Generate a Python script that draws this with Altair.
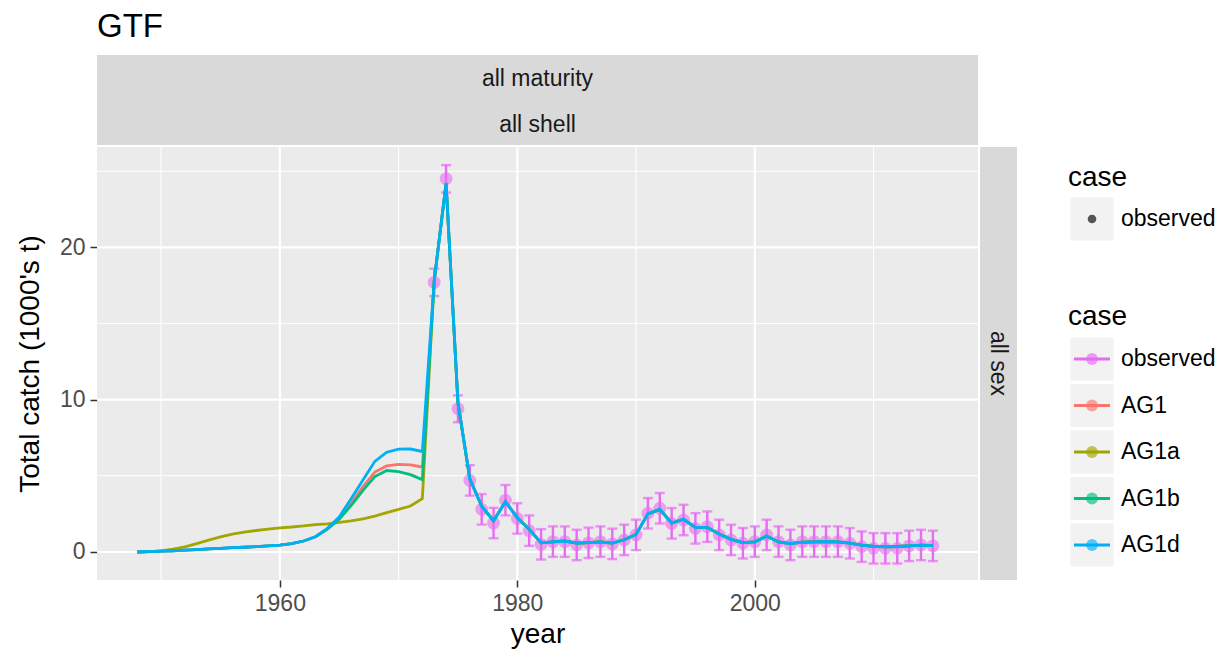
import altair as alt
import pandas as pd

# ---------------- data ----------------
years_pre = list(range(1948, 1973))
years_fit = list(range(1973, 2016))
obs_years = list(range(1973, 2016))

ag1_pre = [0, 0.02, 0.05, 0.08, 0.12, 0.16, 0.2, 0.24, 0.28, 0.31, 0.35, 0.4, 0.45,
           0.55, 0.72, 1.0, 1.5, 2.2, 3.2, 4.3, 5.25, 5.65, 5.75, 5.72, 5.58]
ag1a_pre = [0, 0.02, 0.07, 0.18, 0.33, 0.55, 0.78, 0.99, 1.17, 1.3, 1.41, 1.5, 1.58,
            1.64, 1.72, 1.79, 1.85, 1.95, 2.04, 2.18, 2.35, 2.58, 2.8, 3.02, 3.5]
ag1b_pre = [0, 0.02, 0.05, 0.08, 0.12, 0.16, 0.2, 0.24, 0.28, 0.31, 0.35, 0.4, 0.45,
            0.55, 0.72, 1.0, 1.5, 2.15, 3.05, 4.05, 4.95, 5.35, 5.28, 5.08, 4.75]
ag1d_pre = [0, 0.02, 0.05, 0.08, 0.12, 0.16, 0.2, 0.24, 0.28, 0.31, 0.35, 0.4, 0.45,
            0.55, 0.72, 1.0, 1.55, 2.3, 3.5, 4.73, 5.95, 6.55, 6.75, 6.76, 6.6]
fit_post = [17.8, 24.2, 9.8, 4.8, 3.0, 2.05, 3.3, 2.25, 1.5, 0.6,
            0.66, 0.72, 0.58, 0.62, 0.66, 0.58, 0.8, 1.15, 2.5, 2.8,
            1.9, 2.15, 1.62, 1.62, 1.18, 0.83, 0.62, 0.66, 1.05, 0.66,
            0.55, 0.64, 0.66, 0.67, 0.66, 0.58, 0.45, 0.37, 0.34, 0.36,
            0.4, 0.45, 0.42]
obs_vals = [17.7, 24.5, 9.4, 4.7, 2.8, 1.9, 3.4, 2.2, 1.4, 0.5,
            0.68, 0.68, 0.46, 0.6, 0.68, 0.53, 0.79, 1.12, 2.54, 2.87,
            1.88, 2.1, 1.55, 1.66, 1.12, 0.79, 0.57, 0.68, 1.12, 0.68,
            0.46, 0.68, 0.68, 0.68, 0.68, 0.57, 0.35, 0.24, 0.24, 0.24,
            0.4, 0.46, 0.4]
obs_err = [0.9, 0.9, 0.88] + [1.0] * 40

cases = ["observed", "AG1", "AG1a", "AG1b", "AG1d"]
case_colors = ["#E76BF3", "#F8766D", "#A3A500", "#00BF7D", "#00B0F6"]
model_names = ["AG1", "AG1a", "AG1b", "AG1d"]

grid_major_y = [0, 10, 20]
grid_minor_y = [5, 15, 25]
grid_major_x = [1960, 1980, 2000]
grid_minor_x = [1950, 1970, 1990, 2010]

title_text = ["GTF"]
strip_top = ["all maturity", "all shell"]
strip_right = ["all sex"]
legend_title = ["case"]
legend1_labels = ["observed"]

# ---------------- tables ----------------
rows = []
for name, pre in zip(model_names, [ag1_pre, ag1a_pre, ag1b_pre, ag1d_pre]):
    for yr, v in zip(years_pre + years_fit, pre + fit_post):
        rows.append({"case": name, "year": yr, "value": v})
models = pd.DataFrame(rows)

obs = pd.DataFrame({
    "year": obs_years,
    "value": obs_vals,
    "lo": [v - e for v, e in zip(obs_vals, obs_err)],
    "hi": [v + e for v, e in zip(obs_vals, obs_err)],
})

FONT = "Liberation Sans"
W, H = 881, 433

xscale = alt.Scale(domain=[1944.6, 2018.8], nice=False, zero=False)
yscale = alt.Scale(domain=[-1.84, 26.59], nice=False, zero=False)
cscale = alt.Scale(domain=cases, range=case_colors)

xaxis = alt.Axis(values=grid_major_x, format="d", title="year", grid=False, domain=False,
                 tickColor="#333333", tickSize=7, tickWidth=1.5, labelFontSize=23,
                 labelColor="#4D4D4D", labelPadding=5, titleFontSize=28,
                 titleFontWeight="normal", titleColor="black", titlePadding=5,
                 labelFont=FONT, titleFont=FONT)
yaxis = alt.Axis(values=grid_major_y, title="Total catch (1000's t)", grid=False, domain=False,
                 tickColor="#333333", tickSize=7, tickWidth=1.5, labelFontSize=23,
                 labelColor="#4D4D4D", labelPadding=5, titleFontSize=28,
                 titleFontWeight="normal", titleColor="black", titlePadding=15,
                 labelFont=FONT, titleFont=FONT)

X = lambda f: alt.X(f, scale=xscale, axis=xaxis)
Y = lambda f: alt.Y(f, scale=yscale, axis=yaxis)

gy_minor = alt.Chart(pd.DataFrame({"gy": grid_minor_y})).mark_rule(
    color="white", strokeWidth=1.1).encode(y=Y("gy:Q"))
gy_major = alt.Chart(pd.DataFrame({"gy": grid_major_y})).mark_rule(
    color="white", strokeWidth=2.2).encode(y=Y("gy:Q"))
gx_minor = alt.Chart(pd.DataFrame({"gx": grid_minor_x})).mark_rule(
    color="white", strokeWidth=1.1).encode(x=X("gx:Q"))
gx_major = alt.Chart(pd.DataFrame({"gx": grid_major_x})).mark_rule(
    color="white", strokeWidth=2.2).encode(x=X("gx:Q"))

err_rule = alt.Chart(obs).mark_rule(color="#E76BF3", strokeWidth=2.4).encode(
    x=X("year:Q"), y=Y("lo:Q"), y2="hi:Q")
cap_lo = alt.Chart(obs).mark_tick(color="#E76BF3", orient="horizontal", size=10,
                                  thickness=2.4).encode(x=X("year:Q"), y=Y("lo:Q"))
cap_hi = alt.Chart(obs).mark_tick(color="#E76BF3", orient="horizontal", size=10,
                                  thickness=2.4).encode(x=X("year:Q"), y=Y("hi:Q"))
obs_pts = alt.Chart(obs).mark_circle(color="#E76BF3", size=165, opacity=0.6).encode(
    x=X("year:Q"), y=Y("value:Q"))

lines = alt.Chart(models).mark_line(strokeWidth=2.8).encode(
    x=X("year:Q"), y=Y("value:Q"),
    color=alt.Color("case:N", scale=cscale, legend=None),
    detail="case:N")

# strips and title (decoration outside the panel)
strip_top_bg = alt.Chart(pd.DataFrame({"s": [0]})).mark_rect(color="#D9D9D9").encode(
    x=alt.value(0), x2=alt.value(W), y=alt.value(-92), y2=alt.value(-2))
strip_right_bg = alt.Chart(pd.DataFrame({"s": [0]})).mark_rect(color="#D9D9D9").encode(
    x=alt.value(W + 2), x2=alt.value(W + 39), y=alt.value(0), y2=alt.value(H))
strip_t1 = alt.Chart(pd.DataFrame({"t": [strip_top[0]]})).mark_text(
    fontSize=23, color="#1A1A1A", font=FONT, baseline="middle").encode(
    text="t:N", x=alt.value(W / 2), y=alt.value(-68))
strip_t2 = alt.Chart(pd.DataFrame({"t": [strip_top[1]]})).mark_text(
    fontSize=23, color="#1A1A1A", font=FONT, baseline="middle").encode(
    text="t:N", x=alt.value(W / 2), y=alt.value(-22))
strip_r = alt.Chart(pd.DataFrame({"t": strip_right})).mark_text(
    fontSize=23, color="#1A1A1A", font=FONT, baseline="middle", angle=90).encode(
    text="t:N", x=alt.value(W + 20), y=alt.value(H / 2))
title = alt.Chart(pd.DataFrame({"t": title_text})).mark_text(
    fontSize=33, color="black", font=FONT, align="left", baseline="alphabetic").encode(
    text="t:N", x=alt.value(0), y=alt.value(-110))

# legend 1 (observed dot)
LX = W + 92
leg1_title = alt.Chart(pd.DataFrame({"t": legend_title})).mark_text(
    fontSize=28, font=FONT, align="left", baseline="middle", color="black").encode(
    text="t:N", x=alt.value(LX - 2), y=alt.value(31))
leg1_key = alt.Chart(pd.DataFrame({"t": legend1_labels})).mark_square(
    size=43 * 43, color="#F2F2F2", opacity=1).encode(x=alt.value(LX + 22), y=alt.value(72))
leg1_dot = alt.Chart(pd.DataFrame({"t": legend1_labels})).mark_circle(
    size=75, color="#555555", opacity=1).encode(x=alt.value(LX + 22), y=alt.value(72))
leg1_lab = alt.Chart(pd.DataFrame({"t": legend1_labels})).mark_text(
    fontSize=23, font=FONT, align="left", baseline="middle", color="black").encode(
    text="t:N", x=alt.value(LX + 51), y=alt.value(72))
leg2_title = alt.Chart(pd.DataFrame({"t": legend_title})).mark_text(
    fontSize=28, font=FONT, align="left", baseline="middle", color="black").encode(
    text="t:N", x=alt.value(LX - 2), y=alt.value(170))

# legend 2 (case colours)
leg_df = pd.DataFrame({"case": cases})
ly = alt.Y("case:N", scale=alt.Scale(type="point", domain=cases, range=[212, 398], padding=0),
           axis=None)
lc = alt.Color("case:N", scale=cscale, legend=None)
leg2_key = alt.Chart(leg_df).mark_square(size=43 * 43, color="#F2F2F2", opacity=1).encode(
    x=alt.value(LX + 22), y=ly)
leg2_line = alt.Chart(leg_df).mark_rule(strokeWidth=2.8).encode(
    x=alt.value(LX + 4), x2=alt.value(LX + 40), y=ly, color=lc)
leg2_dot = alt.Chart(leg_df).mark_circle(size=140, opacity=0.65).encode(
    x=alt.value(LX + 22), y=ly, color=lc)
leg2_lab = alt.Chart(leg_df).mark_text(
    fontSize=23, font=FONT, align="left", baseline="middle", color="black").encode(
    text="case:N", x=alt.value(LX + 51), y=ly)

main = alt.layer(gy_minor, gy_major, gx_minor, gx_major, err_rule, cap_lo, cap_hi,
                 obs_pts, lines, strip_top_bg, strip_right_bg, strip_t1, strip_t2,
                 strip_r, title, leg1_title, leg1_key, leg1_dot, leg1_lab, leg2_title)
legend = alt.layer(leg2_key, leg2_line, leg2_dot, leg2_lab)

chart = alt.layer(main, legend).resolve_scale(y="independent").properties(
    width=W, height=H,
    autosize=alt.AutoSizeParams(type="none"),
    padding={"left": 89, "top": 139, "right": 240, "bottom": 71},
).configure(font=FONT).configure_view(fill="#EBEBEB", stroke=None)

chart.save("out.html", embed_options={"renderer": "svg", "actions": False})
